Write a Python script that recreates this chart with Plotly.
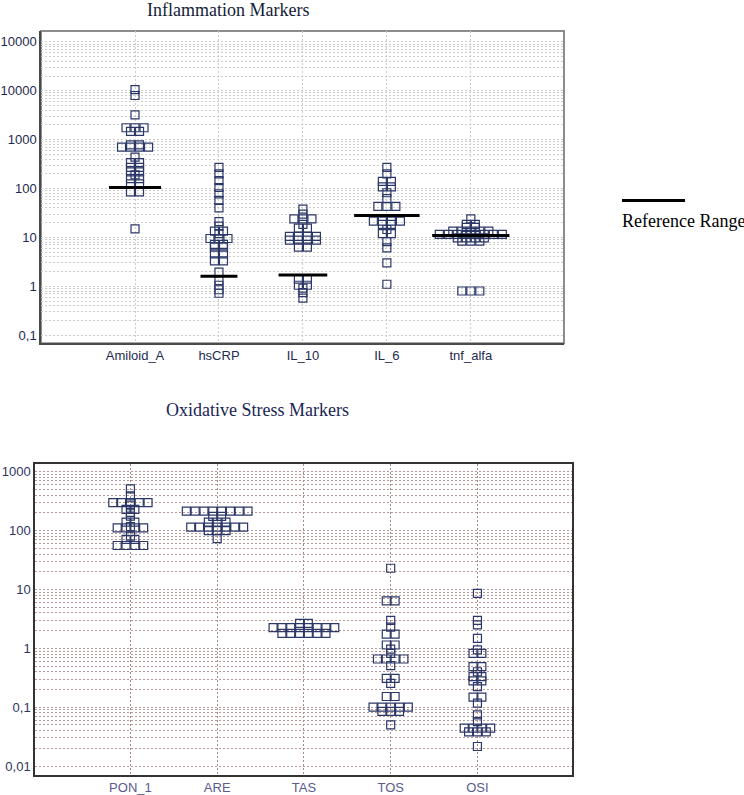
import plotly.graph_objects as go

# ---------------- data ----------------
infl_categories = ["Amiloid_A", "hsCRP", "IL_10", "IL_6", "tnf_alfa"]
amiloid_a = [10500, 8000, 3200, 1750, 1750, 1750, 1480, 1480, 780, 780, 700, 700, 700, 700,
             440, 340, 340, 270, 270, 220, 220, 190, 160, 160, 125, 125, 85, 85, 15]
hscrp = [270, 200, 145, 105, 78, 57, 40, 21, 17, 13.5, 13.5, 12, 9.5, 9.5, 9.5, 7.2, 7.2,
         6.3, 6.3, 4.6, 4.6, 3.3, 3.3, 1.95, 1.3, 1.05, 0.85, 0.72]
il_10 = [38, 30, 24, 24, 24, 18.5, 15.5, 15.5, 10.5, 10.5, 10.5, 10.5, 8.8, 8.8, 8.8, 8.8,
         6.3, 6.3, 1.4, 1.4, 1.05, 1.05, 0.92, 0.74, 0.57]
il_6 = [270, 200, 140, 140, 108, 108, 82, 62, 43, 43, 43, 21.5, 21.5, 21.5, 21.5, 18.5, 18.5,
        14.5, 12, 12, 8.2, 6.1, 3.0, 1.1]
tnf_alfa = [24, 18.5, 18.5, 16, 16, 13.5, 13.5, 13.5, 13.5, 13.5, 11.5, 11.5, 11.5, 11.5,
            11.5, 11.5, 11.5, 11.5, 9.8, 9.8, 9.8, 9.8, 8.4, 8.4, 8.4, 0.8, 0.8, 0.8]
infl_reference = [105, 1.6, 1.7, 28, 11]
infl_tickvals = [0.1, 1, 10, 100, 1000, 10000, 100000]
infl_ticktext = ["0,1", "1", "10", "100", "1000", "10000", "10000"]

ox_categories = ["PON_1", "ARE", "TAS", "TOS", "OSI"]
pon_1 = [515, 390, 300, 300, 300, 300, 300, 265, 230, 230, 205, 177, 140, 140, 117,
         112, 112, 112, 112, 81, 71, 71, 56, 56, 56, 56]
are = [215, 215, 215, 215, 215, 215, 215, 215, 175, 175, 140, 140, 140,
       115, 115, 115, 115, 115, 115, 115, 100, 100, 100, 73]
tas = [2.65, 2.65, 2.25, 2.25, 2.25, 2.25, 2.25, 2.25, 2.25, 2.25,
       1.8, 1.8, 1.8, 1.8, 1.8, 1.8]
tos = [23, 6.4, 6.4, 3.0, 2.3, 1.75, 1.75, 1.14, 1.14, 0.97, 0.82, 0.66, 0.66, 0.66, 0.66,
       0.51, 0.31, 0.31, 0.255, 0.152, 0.152, 0.1, 0.1, 0.1, 0.1, 0.1, 0.085, 0.085, 0.085, 0.05]
osi = [8.6, 3.0, 2.5, 1.48, 0.94, 0.82, 0.82, 0.49, 0.49, 0.40, 0.33, 0.33, 0.28, 0.28, 0.224,
       0.148, 0.148, 0.117, 0.074, 0.057, 0.044, 0.044, 0.044, 0.044, 0.038, 0.038, 0.038, 0.0215]
ox_tickvals = [0.01, 0.1, 1, 10, 100, 1000]
ox_ticktext = ["0,01", "0,1", "1", "10", "100", "1000"]

infl_series = [amiloid_a, hscrp, il_10, il_6, tnf_alfa]
ox_series = [pon_1, are, tas, tos, osi]

# ---------------- layout helpers ----------------
W, H = 744, 795
ref_line_halfwidth = [0.31, 0.22, 0.29, 0.39, 0.46]


def swarm_offsets(values, step):
    """Identical values are laid out side by side, centred on the category."""
    counts = {}
    for v in values:
        counts[v] = counts.get(v, 0) + 1
    seen = {}
    offs = []
    for v in values:
        n = counts[v]
        k = seen.get(v, 0)
        seen[v] = k + 1
        offs.append((k - (n - 1) / 2) * step)
    return offs


def minor_vals(tickvals):
    out = []
    for t in tickvals[:-1]:
        for m in range(2, 10):
            out.append(t * m)
    return out


MARK = "#2b3767"
fig = go.Figure()

# top panel
step_top = 9.0 / 83.9
for i, vals in enumerate(infl_series):
    offs = swarm_offsets(vals, step_top)
    fig.add_trace(go.Scatter(
        x=[i + o for o in offs], y=vals, mode="markers", xaxis="x", yaxis="y",
        marker=dict(symbol="square-open", size=8, color=MARK, line=dict(width=1.2)),
        showlegend=False, hoverinfo="y"))
for i, r in enumerate(infl_reference):
    hw = ref_line_halfwidth[i]
    fig.add_trace(go.Scatter(
        x=[i - hw, i + hw], y=[r, r], mode="lines", xaxis="x", yaxis="y",
        line=dict(color="black", width=3), showlegend=False, hoverinfo="skip"))

# bottom panel
step_bot = 8.8 / 86.65
for i, vals in enumerate(ox_series):
    offs = swarm_offsets(vals, step_bot)
    fig.add_trace(go.Scatter(
        x=[i + o for o in offs], y=vals, mode="markers", xaxis="x2", yaxis="y2",
        marker=dict(symbol="square-open", size=8, color=MARK, line=dict(width=1.2)),
        showlegend=False, hoverinfo="y"))

TICKFONT = dict(family="Liberation Sans, Arial, sans-serif", size=13)
grid_top = "#cccccc"
grid_bot = "#b39a9a"

fig.update_layout(
    width=W, height=H, margin=dict(l=0, r=0, t=0, b=0),
    paper_bgcolor="white", plot_bgcolor="white",
    showlegend=False,
    xaxis=dict(domain=[41 / W, 564 / W], anchor="y", range=[-1.12, 5.11],
               tickmode="array", tickvals=list(range(len(infl_categories))),
               ticktext=infl_categories, ticks="", showgrid=True,
               gridcolor=grid_top, griddash="2px,2px", gridwidth=1,
               zeroline=False, showline=True, linecolor="#4a4a4a", linewidth=1.5,
               tickfont=dict(TICKFONT, color="#1e2a50")),
    yaxis=dict(domain=[1 - 344 / H, 1 - 31 / H], anchor="x", type="log",
               range=[-1.163, 5.224], tickmode="array", tickvals=infl_tickvals,
               ticktext=infl_ticktext, ticks="", showgrid=True,
               gridcolor=grid_top, griddash="2px,2px", gridwidth=1,
               minor=dict(tickmode="array", tickvals=minor_vals(infl_tickvals),
                          showgrid=True, gridcolor=grid_top, griddash="2px,2px",
                          gridwidth=1, ticks=""),
               zeroline=False, showline=True, linecolor="#4a4a4a", linewidth=1.5,
               tickfont=dict(TICKFONT, color="#1e2a50")),
    xaxis2=dict(domain=[35 / W, 572 / W], anchor="y2", range=[-1.10, 5.09],
                tickmode="array", tickvals=list(range(len(ox_categories))),
                ticktext=ox_categories, ticks="", showgrid=True,
                gridcolor="#a88a8a", griddash="2px,2px", gridwidth=1,
                zeroline=False, showline=True, mirror=True, linecolor="#333333",
                linewidth=1.5, tickfont=dict(TICKFONT, color="#5a5a8c")),
    yaxis2=dict(domain=[1 - 777 / H, 1 - 465 / H], anchor="x2", type="log",
                range=[-2.153, 3.136], tickmode="array", tickvals=ox_tickvals,
                ticktext=ox_ticktext, ticks="", showgrid=True,
                gridcolor=grid_bot, griddash="2px,2px", gridwidth=1,
                minor=dict(tickmode="array", tickvals=minor_vals(ox_tickvals),
                           showgrid=True, gridcolor=grid_bot, griddash="2px,2px",
                           gridwidth=1, ticks=""),
                zeroline=False, showline=True, mirror=True, linecolor="#333333",
                linewidth=1.5, tickfont=dict(TICKFONT, color="#2e3560")),
    shapes=[
        dict(type="rect", xref="paper", yref="paper", x0=41 / W, x1=564 / W,
             y0=1 - 344 / H, y1=1 - 31 / H, line=dict(color="#8c8c8c", width=2),
             layer="below"),
        dict(type="line", xref="paper", yref="paper", x0=622 / W, x1=685 / W,
             y0=1 - 201 / H, y1=1 - 201 / H, line=dict(color="black", width=3)),
    ],
    annotations=[
        dict(text="Inflammation Markers", xref="paper", yref="paper",
             x=227.5 / W, y=1 - 10 / H, xanchor="center", yanchor="middle",
             showarrow=False,
             font=dict(family="Liberation Serif, Times New Roman, serif", size=18,
                       color="#141c36")),
        dict(text="Oxidative Stress Markers", xref="paper", yref="paper",
             x=257 / W, y=1 - 411 / H, xanchor="center", yanchor="middle",
             showarrow=False,
             font=dict(family="Liberation Serif, Times New Roman, serif", size=18,
                       color="#1b2555")),
        dict(text="Reference Range", xref="paper", yref="paper",
             x=620 / W, y=1 - 222 / H, xanchor="left", yanchor="middle",
             showarrow=False,
             font=dict(family="Liberation Serif, Times New Roman, serif", size=18,
                       color="black")),
    ],
)

fig.write_html("out.html", config={"displayModeBar": False},
               post_script="document.body.style.margin='0';")
